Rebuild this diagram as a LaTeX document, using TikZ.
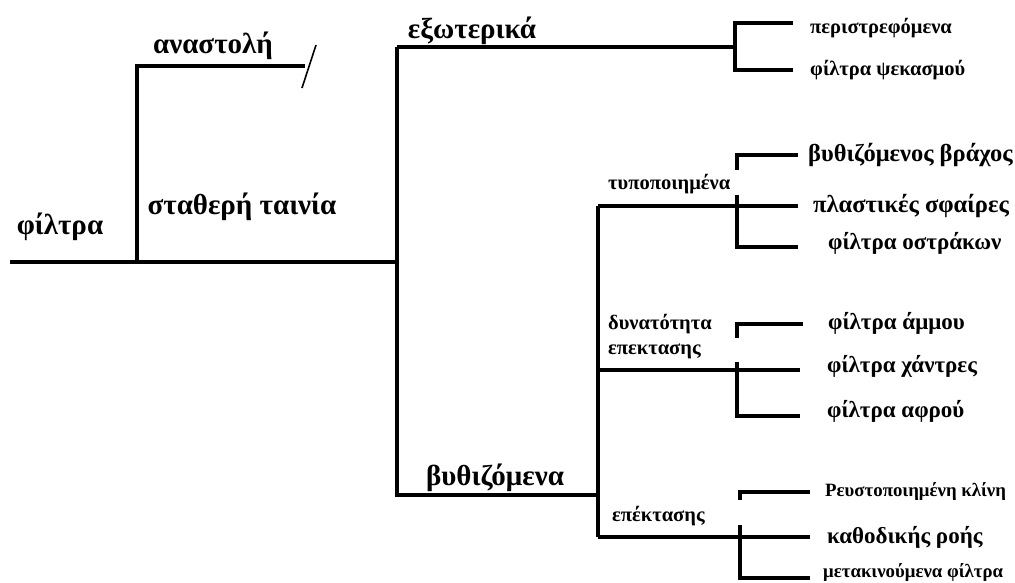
\documentclass[tikz,border=0pt]{standalone}
\usepackage{fontspec}
\setmainfont{Liberation Serif}
\usetikzlibrary{positioning}
\tikzset{
    branch/.style={line width=4.5pt, black},
    bigtxt/.style={font=\bfseries\fontsize{29}{31}\selectfont, inner sep=0pt},
    midtxt/.style={font=\bfseries\fontsize{23}{25}\selectfont, inner sep=0pt, anchor=west},
    smalltxt/.style={font=\bfseries\fontsize{20.5}{25}\selectfont, inner sep=0pt, anchor=west},
    tinytxt/.style={font=\bfseries\fontsize{18.8}{21}\selectfont, inner sep=0pt, anchor=west},
}

\begin{document}
\begin{tikzpicture}[x=1pt, y=-1pt]
        \useasboundingbox (0,0) rectangle (1015,582);
        % trunk and first branches
        \coordinate (root) at (10,262);
        \coordinate (j1) at (137,262);
        \coordinate (j1top) at (137,66);
        \coordinate (susp) at (305,66);
        \coordinate (cutA) at (316,45);
        \coordinate (cutB) at (302,88);
        \coordinate (j2) at (397,262);
        \coordinate (j2top) at (397,47);
        \coordinate (j2bot) at (397,495);
        \coordinate (j3bot) at (598,495);
        \coordinate (j3top) at (598,206);
        \coordinate (j3mid) at (598,370);
        \coordinate (j3low) at (598,537);
        \draw [branch] (root) -- (j2);
        \draw [branch] (j1) -- (j1top) -- (susp);
        \draw [line width=1.6pt] (cutA) -- (cutB);     % cut
        \draw [branch] (j2top) -- (j2bot) -- (j3bot);
        \draw [branch] (j3top) -- (j3low);

        % external
        \coordinate (ea) at (735,23);
        \coordinate (eb) at (735,70);
        \coordinate (ea2) at (793,23);
        \coordinate (eb2) at (793,70);
        \draw [branch] (j2top) -- (735,47);
        \draw [branch] (ea2) -- (ea) -- (eb) -- (eb2);

        % standard
        \coordinate (sa) at (737,155);
        \coordinate (sa2) at (798,155);
        \coordinate (sm2) at (798,206);
        \coordinate (sb) at (737,247);
        \coordinate (sb2) at (798,247);
        \draw [branch] (sa2) -- (sa) -- (737,170);
        \draw [branch] (737,195) -- (sb) -- (sb2);
        \draw [branch] (j3top) -- (sm2);

        % expandable
        \coordinate (da) at (737,324);
        \coordinate (da2) at (803,324);
        \coordinate (dm2) at (800,370);
        \coordinate (db) at (737,416);
        \coordinate (db2) at (800,416);
        \draw [branch] (da2) -- (da) -- (737,338);
        \draw [branch] (737,362) -- (db) -- (db2);
        \draw [branch] (j3mid) -- (dm2);

        % expansion
        \coordinate (xa) at (740,492);
        \coordinate (xa2) at (810,492);
        \coordinate (xm2) at (810,537);
        \coordinate (xb) at (740,578);
        \coordinate (xb2) at (810,578);
        \draw [branch] (xa2) -- (xa) -- (740,500);
        \draw [branch] (740,525) -- (xb) -- (xb2);
        \draw [branch] (j3low) -- (xm2);

        % labels
        \node [bigtxt] (filt) at (60,227) {φίλτρα};
        \node [bigtxt] (fixed) at (242,207) {σταθερή ταινία};
        \node [bigtxt] (susplbl) at (213,46) {αναστολή};
        \node [bigtxt] (extlbl) at (472,31) {εξωτερικά};
        \node [bigtxt] (sublbl) at (495,478) {βυθιζόμενα};
        \node [smalltxt] (std) at (608,184) {τυποποιημένα};
        \node [smalltxt, align=left] (cap) at (608,337) {δυνατότητα\\επεκτασης};
        \node [smalltxt] (expn) at (612,516) {επέκτασης};

        \node [smalltxt, right=17pt of ea2, yshift=-5pt] (rot) {περιστρεφόμενα};
        \node [smalltxt, right=17pt of eb2] (spray) {φίλτρα ψεκασμού};
        \node [midtxt, font=\bfseries\fontsize{24.5}{26}\selectfont, right=10pt of sa2] (rock) {βυθιζόμενος βράχος};
        \node [midtxt, font=\bfseries\fontsize{24.5}{26}\selectfont, right=15pt of sm2] (plast) {πλαστικές σφαίρες};
        \node [midtxt, right=30pt of sb2, yshift=4pt] (shell) {φίλτρα οστράκων};
        \node [midtxt, right=25pt of da2, yshift=1pt] (sand) {φίλτρα άμμου};
        \node [midtxt, right=27pt of dm2, yshift=4pt] (bead) {φίλτρα χάντρες};
        \node [midtxt, right=27pt of db2, yshift=5pt] (foam) {φίλτρα αφρού};
        \node [tinytxt, right=15pt of xa2] (fluid) {Ρευστοποιημένη κλίνη};
        \node [midtxt, right=17pt of xm2] (down) {καθοδικής ροής};
        \node [tinytxt, anchor=base west] (move) at (823,577) {μετακινούμενα φίλτρα};
    \end{tikzpicture}
\end{document}
